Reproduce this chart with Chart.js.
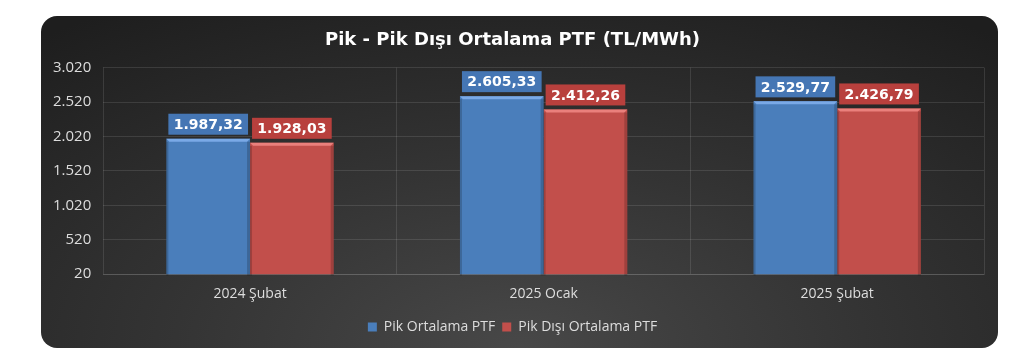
<!DOCTYPE html>
<html>
<head>
<meta charset="utf-8">
<script src="https://cdn.jsdelivr.net/npm/chart.js@4"></script>
<style>
  html, body { margin: 0; padding: 0; background: #fff; }
  #box {
    position: absolute; left: 41px; top: 16px; width: 957px; height: 332px;
    border-radius: 16px; overflow: hidden;
    background: radial-gradient(ellipse 80% 120% at 50% 100%, #484848 0%, #343434 45%, #1e1e1e 100%);
  }
  #wrap { position: absolute; left: 0; top: 0; width: 957px; height: 332px; }
</style>
</head>
<body>
<div id="box"><div id="wrap"><canvas id="chart"></canvas></div></div>
<script>
const categories = ['2024 Şubat', '2025 Ocak', '2025 Şubat'];
const pikValues = [1987.32, 2605.33, 2529.77];
const pikDisiValues = [1928.03, 2412.26, 2426.79];
const seriesNames = ['Pik Ortalama PTF', 'Pik Dışı Ortalama PTF'];
const yTicks = [20, 520, 1020, 1520, 2020, 2520, 3020];

// 1.987,32 style
function trNum(v, dec) {
    const parts = v.toFixed(dec).split('.');
    const intPart = parts[0].replace(/\B(?=(\d{3})+(?!\d))/g, '.');
    return parts[1] ? intPart + ',' + parts[1] : intPart;
}

// boxed value labels above each bar
const valueBoxes = {
    id: 'valueBoxes',
    afterDatasetsDraw(chart) {
        const ctx = chart.ctx;
        ctx.save();
        ctx.font = 'bold 14px "DejaVu Sans"';
        ctx.textAlign = 'center';
        ctx.textBaseline = 'middle';
        chart.data.datasets.forEach((ds, i) => {
            chart.getDatasetMeta(i).data.forEach((bar, j) => {
                const txt = trNum(ds.data[j], 2);
                const w = bar.width - 4;
                const h = 21;
                const y = bar.y - 4 - h;
                ctx.fillStyle = ds.labelBg;
                ctx.fillRect(bar.x - w / 2, y, w, h);
                ctx.fillStyle = '#ffffff';
                ctx.fillText(txt, bar.x, y + h / 2 + 1);
            });
        });
        ctx.restore();
    }
};

// light bevel on top of bars
const barBevel = {
    id: 'barBevel',
    afterDatasetsDraw(chart) {
        const ctx = chart.ctx;
        ctx.save();
        chart.data.datasets.forEach((ds, i) => {
            chart.getDatasetMeta(i).data.forEach(bar => {
                const l = bar.x - bar.width / 2, r = bar.x + bar.width / 2;
                ctx.fillStyle = ds.bevel;
                ctx.beginPath();
                ctx.moveTo(l, bar.y);
                ctx.lineTo(r, bar.y);
                ctx.lineTo(r - 3, bar.y + 3);
                ctx.lineTo(l + 3, bar.y + 3);
                ctx.closePath();
                ctx.fill();
                ctx.fillStyle = 'rgba(0,0,0,0.18)';
                ctx.fillRect(r - 3, bar.y + 3, 3, bar.base - bar.y - 3);
                ctx.fillRect(l, bar.y + 3, 2, bar.base - bar.y - 3);
            });
        });
        ctx.restore();
    }
};

new Chart(document.getElementById('chart'), {
    type: 'bar',
    data: {
        labels: categories,
        datasets: [
            { label: seriesNames[0], data: pikValues, backgroundColor: '#4a7ebb', labelBg: '#4576b4', bevel: '#7aa9e6', borderWidth: 0 },
            { label: seriesNames[1], data: pikDisiValues, backgroundColor: '#c24f4b', labelBg: '#b8403d', bevel: '#ea807c', borderWidth: 0 }
        ]
    },
    options: {
        responsive: true,
        maintainAspectRatio: false,
        animation: false,
        layout: { padding: { left: 0, right: 14, top: 4, bottom: 4 } },
        datasets: { bar: { categoryPercentage: 0.57, barPercentage: 1.0 } },
        plugins: {
            title: {
                display: true,
                text: 'Pik - Pik Dışı Ortalama PTF (TL/MWh)',
                color: '#ffffff',
                font: { family: 'DejaVu Sans', size: 18, weight: 'bold' },
                padding: { top: 10, bottom: 16 }
            },
            legend: {
                position: 'bottom',
                labels: {
                    color: '#dddddd',
                    font: { family: 'Open Sans', size: 14 },
                    boxWidth: 9,
                    boxHeight: 9,
                    padding: 7
                }
            },
            tooltip: { enabled: false }
        },
        scales: {
            x: {
                grid: { color: 'rgba(255,255,255,0.11)', drawTicks: false, offset: true },
                border: { color: 'rgba(255,255,255,0.11)' },
                ticks: { color: '#dddddd', font: { family: 'Open Sans', size: 14 }, padding: 11 }
            },
            y: {
                min: yTicks[0],
                max: yTicks[yTicks.length - 1],
                afterBuildTicks: axis => { axis.ticks = yTicks.map(v => ({ value: v })); },
                grid: { color: 'rgba(255,255,255,0.11)', drawTicks: false },
                border: { display: false },
                ticks: {
                    color: '#dddddd',
                    font: { family: 'Open Sans', size: 15 },
                    padding: 12,
                    callback: v => trNum(v, 0)
                }
            }
        }
    },
    plugins: [barBevel, valueBoxes]
});
</script>
</body>
</html>
